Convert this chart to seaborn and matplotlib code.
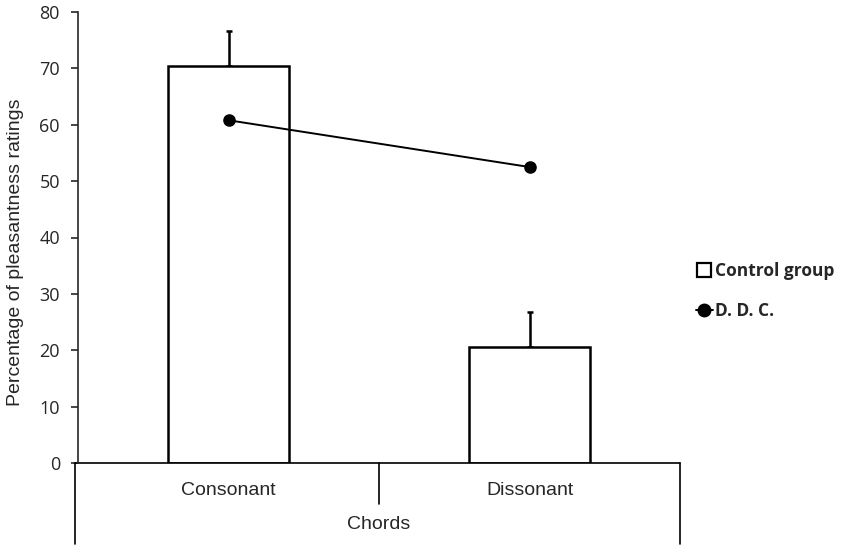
import matplotlib
matplotlib.use("Agg")
import matplotlib.pyplot as plt
import pandas as pd
import seaborn as sns
from matplotlib.lines import Line2D

# values
chords = ["Consonant", "Dissonant"]
control_group = [70.4, 20.6]
control_err = [6.2, 6.2]
ddc = [60.8, 52.5]

df = pd.DataFrame({"Chords": chords, "Control": control_group, "DDC": ddc})

sns.set_style("ticks")
plt.rcParams["font.family"] = ["Liberation Sans", "DejaVu Sans"]

fig = plt.figure(figsize=(8.46, 5.47), dpi=100)
ax = fig.add_axes([78 / 846, 1 - 463 / 547, (680 - 78) / 846, (463 - 12) / 547])

sns.barplot(data=df, x="Chords", y="Control", color="white", edgecolor="black",
            linewidth=1.8, width=0.4, ax=ax, zorder=2)
ax.errorbar(range(len(chords)), control_group, yerr=[[0] * len(chords), control_err],
            fmt="none", ecolor="black", elinewidth=1.8, capsize=2, capthick=1.8, zorder=1)
sns.pointplot(data=df, x="Chords", y="DDC", color="black", markers="o",
              linewidth=1.4, markersize=8, ax=ax, zorder=3)

ax.set_xlim(-0.5, 1.5)
ax.set_ylim(0, 80)
ax.set_yticks(range(0, 81, 10))
for lab in ax.get_yticklabels():
    lab.set_fontfamily(["Open Sans", "DejaVu Sans"])
ax.tick_params(axis="y", labelsize=13, length=5, width=1.2, direction="out", pad=8)
ax.tick_params(axis="x", length=0, labelbottom=False)
ax.set_xlabel("")
ax.set_ylabel("Percentage of pleasantness ratings", fontsize=14)
ax.yaxis.set_label_coords(-0.09, 0.468)
sns.despine(ax=ax)
ax.spines["left"].set_linewidth(1.2)
ax.spines["bottom"].set_visible(False)

# category table below the axis
tr = ax.get_xaxis_transform()
kw = dict(color="black", lw=1.2, transform=tr, clip_on=False)
ax.add_line(Line2D([-0.51, 1.5], [0, 0], **kw))
ax.add_line(Line2D([-0.51, -0.51], [0, -0.18], **kw))
ax.add_line(Line2D([0.5, 0.5], [0, -0.09], **kw))
ax.add_line(Line2D([1.5, 1.5], [0, -0.18], **kw))
for i, c in enumerate(chords):
    ax.text(i, -0.062, c, transform=tr, ha="center", va="center", fontsize=14)
ax.text(0.5, -0.136, "Chords", transform=tr, ha="center", va="center", fontsize=14)

handles = [
    Line2D([], [], marker="s", markersize=9.5, markerfacecolor="white",
           markeredgecolor="black", markeredgewidth=1.6, linestyle="none"),
    Line2D([], [], marker="o", markersize=9, color="black", lw=1.4),
]
fig.legend(handles, ["Control group", "D. D. C."], loc="center left",
           bbox_to_anchor=(680 / 846, 1 - 291 / 547), frameon=False,
           handlelength=1.0, handletextpad=0.1, labelspacing=1.3,
           prop={"family": "Open Sans", "weight": "bold", "size": 12.5})

fig.savefig("out.png", dpi=100)
